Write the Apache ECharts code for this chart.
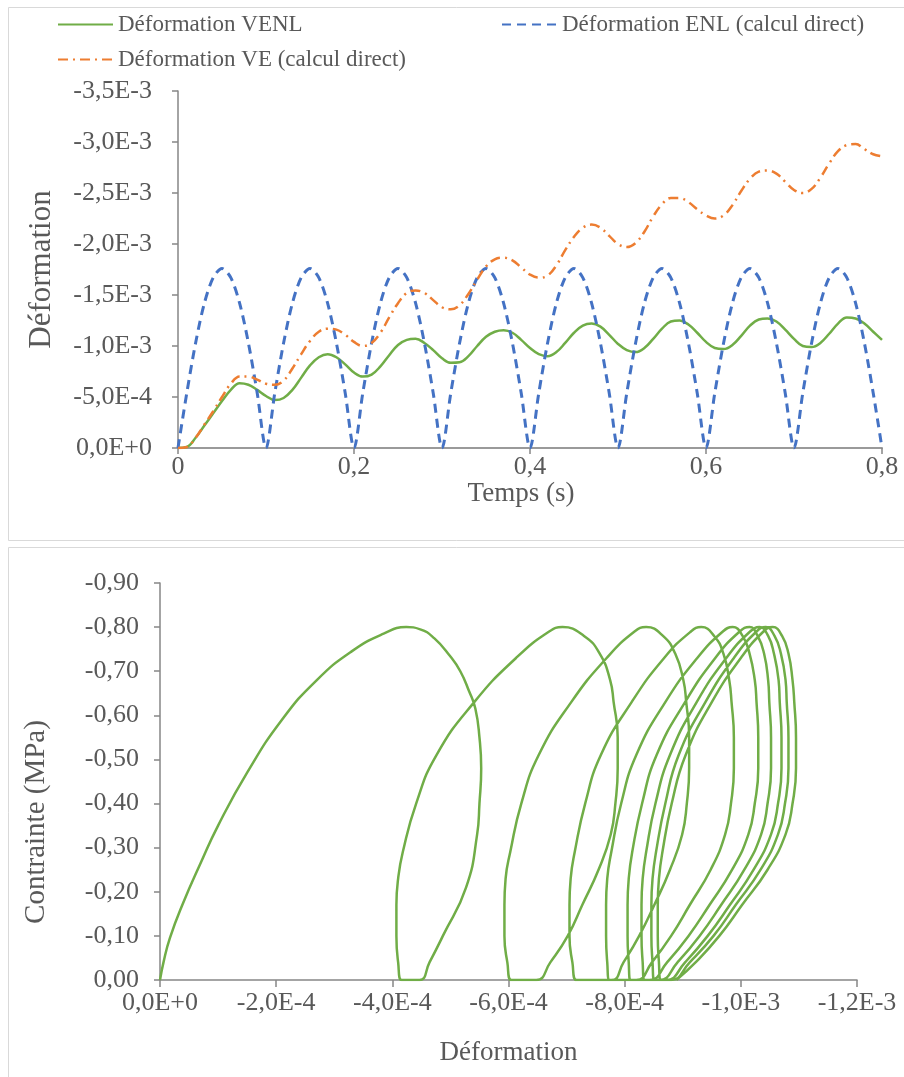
<!DOCTYPE html>
<html>
<head>
<meta charset="utf-8">
<script src="https://cdn.jsdelivr.net/npm/echarts/dist/echarts.min.js"></script>
<style>
html,body{margin:0;padding:0;background:#fff;}
#chart{width:904px;height:1077px;}
</style>
</head>
<body>
<div id="chart"></div>
<script>
// ---------- Top chart: strain vs time (strain in units of 1E-3) ----------
const timeS = [0,0.01,0.02,0.03,0.04,0.05,0.06,0.07,0.08,0.09,0.1,0.11,0.12,0.13,0.14,0.15,0.16,0.17,0.18,0.19,0.2,0.21,0.22,0.23,0.24,0.25,0.26,0.27,0.28,0.29,0.3,0.31,0.32,0.33,0.34,0.35,0.36,0.37,0.38,0.39,0.4,0.41,0.42,0.43,0.44,0.45,0.46,0.47,0.48,0.49,0.5,0.51,0.52,0.53,0.54,0.55,0.56,0.57,0.58,0.59,0.6,0.61,0.62,0.63,0.64,0.65,0.66,0.67,0.68,0.69,0.7,0.71,0.72,0.73,0.74,0.75,0.76,0.77,0.78,0.79,0.8];

const strainVENL = [0,-0.01,-0.10,-0.22,-0.34,-0.46,-0.57,-0.635,-0.62,-0.57,-0.51,
  -0.47,-0.49,-0.57,-0.69,-0.81,-0.89,-0.92,-0.89,-0.82,-0.74,
  -0.70,-0.72,-0.80,-0.91,-1.01,-1.06,-1.07,-1.03,-0.96,-0.88,
  -0.835,-0.84,-0.90,-1.00,-1.09,-1.14,-1.155,-1.13,-1.06,-0.98,
  -0.92,-0.90,-0.94,-1.03,-1.13,-1.20,-1.22,-1.19,-1.11,-1.02,
  -0.96,-0.94,-0.98,-1.07,-1.17,-1.24,-1.25,-1.21,-1.13,-1.04,
  -0.98,-0.97,-1.01,-1.10,-1.20,-1.26,-1.27,-1.24,-1.16,-1.07,
  -1.00,-0.99,-1.03,-1.12,-1.22,-1.28,-1.27,-1.22,-1.14,-1.06];

const strainENL = [0,-0.54,-1.03,-1.42,-1.67,-1.76,-1.67,-1.42,-1.03,-0.54,
  0,-0.54,-1.03,-1.42,-1.67,-1.76,-1.67,-1.42,-1.03,-0.54,
  0,-0.54,-1.03,-1.42,-1.67,-1.76,-1.67,-1.42,-1.03,-0.54,
  0,-0.54,-1.03,-1.42,-1.67,-1.76,-1.67,-1.42,-1.03,-0.54,
  0,-0.54,-1.03,-1.42,-1.67,-1.76,-1.67,-1.42,-1.03,-0.54,
  0,-0.54,-1.03,-1.42,-1.67,-1.76,-1.67,-1.42,-1.03,-0.54,
  0,-0.54,-1.03,-1.42,-1.67,-1.76,-1.67,-1.42,-1.03,-0.54,
  0,-0.54,-1.03,-1.42,-1.67,-1.76,-1.67,-1.42,-1.03,-0.54,
  0];

const strainVE = [0,-0.01,-0.10,-0.23,-0.36,-0.50,-0.63,-0.70,-0.70,-0.67,-0.63,
  -0.62,-0.66,-0.78,-0.92,-1.05,-1.14,-1.17,-1.16,-1.11,-1.04,
  -1.00,-1.03,-1.13,-1.28,-1.42,-1.52,-1.545,-1.52,-1.45,-1.38,
  -1.36,-1.40,-1.51,-1.65,-1.78,-1.85,-1.865,-1.84,-1.77,-1.70,
  -1.67,-1.69,-1.79,-1.94,-2.07,-2.16,-2.19,-2.16,-2.08,-2.00,
  -1.97,-2.01,-2.12,-2.27,-2.39,-2.45,-2.45,-2.41,-2.34,-2.28,
  -2.25,-2.28,-2.38,-2.52,-2.64,-2.71,-2.72,-2.69,-2.61,-2.53,
  -2.50,-2.54,-2.65,-2.79,-2.91,-2.97,-2.98,-2.93,-2.88,-2.86];

// ---------- Bottom chart: stress (MPa) vs strain (strain in units of 1E-4) ----------
const loop1Strain = [0,-0.06,-0.17,-0.40,-0.70,-1.00,-1.50,-2.10,-2.70,-3.30,-3.85,-4.24,-4.48,-4.72,-4.99,-5.17,-5.32,-5.43,-5.50,-5.53,-5.50,-5.46,-5.27,-4.87,-4.64,-4.47];
const loop1Stress = [0,-0.04,-0.095,-0.175,-0.265,-0.35,-0.47,-0.59,-0.68,-0.745,-0.785,-0.80,-0.795,-0.775,-0.735,-0.70,-0.655,-0.615,-0.55,-0.48,-0.40,-0.33,-0.21,-0.10,-0.04,0];

const cycleStress = [0,-0.04,-0.10,-0.17,-0.23,-0.29,-0.40,-0.51,-0.63,-0.73,-0.79,-0.80,-0.78,-0.74,-0.68,-0.63,-0.55,-0.48,-0.40,-0.33,-0.25,-0.17,-0.10,-0.04,0];
const loop2Strain = [-4.16,-4.10,-4.07,-4.07,-4.10,-4.18,-4.41,-4.76,-5.41,-6.13,-6.70,-6.93,-7.30,-7.57,-7.75,-7.81,-7.88,-7.88,-7.84,-7.76,-7.55,-7.27,-7.02,-6.72,-6.48];
const loop3Strain = [-6.05,-5.98,-5.93,-5.93,-5.95,-6.03,-6.22,-6.52,-7.08,-7.69,-8.17,-8.37,-8.66,-8.87,-9.01,-9.06,-9.11,-9.11,-9.07,-8.99,-8.78,-8.51,-8.25,-7.98,-7.77];
const loop4Strain = [-7.17,-7.10,-7.05,-7.05,-7.07,-7.14,-7.32,-7.59,-8.12,-8.68,-9.14,-9.32,-9.54,-9.70,-9.80,-9.84,-9.88,-9.88,-9.83,-9.73,-9.48,-9.12,-8.80,-8.47,-8.20];
const loop5Strain = [-7.74,-7.70,-7.68,-7.68,-7.70,-7.77,-7.94,-8.20,-8.70,-9.25,-9.69,-9.86,-10.03,-10.15,-10.24,-10.27,-10.30,-10.30,-10.24,-10.13,-9.85,-9.46,-9.10,-8.73,-8.43];
const loop6Strain = [-8.10,-8.07,-8.05,-8.05,-8.07,-8.13,-8.30,-8.55,-9.04,-9.56,-9.98,-10.15,-10.29,-10.40,-10.47,-10.49,-10.52,-10.52,-10.46,-10.35,-10.06,-9.66,-9.29,-8.91,-8.60];
const loop7Strain = [-8.34,-8.31,-8.29,-8.29,-8.31,-8.37,-8.53,-8.78,-9.24,-9.75,-10.16,-10.32,-10.47,-10.57,-10.65,-10.67,-10.70,-10.70,-10.64,-10.52,-10.22,-9.81,-9.43,-9.04,-8.72];
const loop8Strain = [-8.51,-8.48,-8.46,-8.46,-8.48,-8.54,-8.70,-8.93,-9.39,-9.88,-10.27,-10.43,-10.58,-10.69,-10.77,-10.79,-10.82,-10.82,-10.76,-10.64,-10.34,-9.91,-9.53,-9.12,-8.80];
const loop9Strain = [-8.62,-8.59,-8.57,-8.57,-8.59,-8.65,-8.81,-9.05,-9.50,-10.00,-10.39,-10.55,-10.71,-10.82,-10.89,-10.92,-10.95,-10.95,-10.89,-10.77,-10.46,-10.02,-9.63,-9.22,-8.89];

// ---------- build series data ----------
const pairs = (xs, ys) => xs.map((x, i) => [x, ys[i]]);
const venlData = pairs(timeS, strainVENL);
const enlData = pairs(timeS, strainENL);
const veData = pairs(timeS, strainVE);
const cycleLoops = [loop2Strain, loop3Strain, loop4Strain, loop5Strain, loop6Strain, loop7Strain, loop8Strain, loop9Strain];
let hysteresis = pairs(loop1Strain, loop1Stress);
cycleLoops.forEach(l => { hysteresis = hysteresis.concat(pairs(l, cycleStress)); });

function sci(real) {
  if (Math.abs(real) < 1e-15) return '0,0E+0';
  let e = Math.floor(Math.log10(Math.abs(real)) + 1e-9);
  let s = (real / Math.pow(10, e)).toFixed(1);
  if (Math.abs(parseFloat(s)) >= 10) { e += 1; s = (real / Math.pow(10, e)).toFixed(1); }
  return s.replace('.', ',') + 'E' + (e >= 0 ? '+' : '-') + Math.abs(e);
}

const FONT = '"Liberation Serif", "Times New Roman", serif';
const TXT = '#595959';
const AX = '#868686';
const GREEN = '#70ad47', BLUE = '#4472c4', ORANGE = '#ed7d31';

const legendBase = {itemWidth: 55, itemHeight: 14, itemGap: 0, selectedMode: false,
  itemStyle: {opacity: 0},
  textStyle: {fontFamily: FONT, fontSize: 23, color: TXT}};

const chart = echarts.init(document.getElementById('chart'), null, {renderer: 'canvas'});
chart.setOption({
  animation: false,
  backgroundColor: '#ffffff',
  textStyle: {fontFamily: FONT},
  graphic: [
    {type: 'rect', shape: {x: 8.5, y: 7.5, width: 1000, height: 533}, style: {fill: 'none', stroke: '#d9d9d9', lineWidth: 1}, silent: true, z: -1},
    {type: 'rect', shape: {x: 8.5, y: 547.5, width: 1000, height: 600}, style: {fill: 'none', stroke: '#d9d9d9', lineWidth: 1}, silent: true, z: -1},
    {type: 'text', x: 36, y: 822, rotation: Math.PI / 2, silent: true,
     style: {text: 'Contrainte (MPa)', font: '29px "Liberation Serif", serif', fill: TXT,
             textAlign: 'center', textVerticalAlign: 'middle'}}
  ],
  legend: [
    Object.assign({left: 52, top: 8, data: ['Déformation VENL']}, legendBase),
    Object.assign({left: 496, top: 8, data: ['Déformation ENL (calcul direct)']}, legendBase),
    Object.assign({left: 52, top: 43, data: ['Déformation VE (calcul direct)']}, legendBase)
  ],
  grid: [
    {left: 178, right: 22, top: 91, height: 357, containLabel: false},
    {left: 160, right: 47, top: 583, height: 397, containLabel: false}
  ],
  xAxis: [
    {gridIndex: 0, type: 'value', min: 0, max: 0.8, interval: 0.2,
     name: 'Temps (s)', nameLocation: 'middle', nameGap: 28,
     nameTextStyle: {fontFamily: FONT, fontSize: 27, color: TXT, padding: [0, 18, 0, 0]},
     axisLine: {lineStyle: {color: '#9a9a9a', width: 2}},
     axisTick: {show: true, length: 6, lineStyle: {color: AX, width: 1.5}},
     axisLabel: {margin: 6, fontFamily: FONT, fontSize: 26, color: TXT,
       formatter: v => (v === 0 ? '0' : v.toFixed(1).replace('.', ','))},
     splitLine: {show: false}},
    {gridIndex: 1, type: 'value', min: -12, max: 0, interval: 2, inverse: true,
     name: 'Déformation', nameLocation: 'middle', nameGap: 59,
     nameTextStyle: {fontFamily: FONT, fontSize: 27, color: TXT},
     axisLine: {lineStyle: {color: AX, width: 1.5}},
     axisTick: {show: true, length: 7, lineStyle: {color: AX, width: 1.5}},
     axisLabel: {margin: 10, fontFamily: FONT, fontSize: 26, color: TXT,
       formatter: v => sci(v * 1e-4)},
     splitLine: {show: false}}
  ],
  yAxis: [
    {gridIndex: 0, type: 'value', min: -3.5, max: 0, interval: 0.5, inverse: true,
     name: 'Déformation', nameLocation: 'middle', nameGap: 121,
     nameTextStyle: {fontFamily: FONT, fontSize: 31, color: TXT},
     axisLine: {show: true, lineStyle: {color: AX, width: 1.5}},
     axisTick: {show: true, length: 6, lineStyle: {color: AX, width: 1.5}},
     axisLabel: {margin: 26, fontFamily: FONT, fontSize: 26, color: TXT,
       formatter: v => sci(v * 1e-3)},
     splitLine: {show: false}},
    {gridIndex: 1, type: 'value', min: -0.9, max: 0, interval: 0.1, inverse: true,
     axisLine: {show: true, lineStyle: {color: AX, width: 1.5}},
     axisTick: {show: true, length: 6, lineStyle: {color: AX, width: 1.5}},
     axisLabel: {margin: 21, fontFamily: FONT, fontSize: 26, color: TXT,
       formatter: v => v.toFixed(2).replace('.', ',')},
     splitLine: {show: false}}
  ],
  series: [
    {name: 'Déformation VENL', type: 'line', xAxisIndex: 0, yAxisIndex: 0, data: venlData,
     smooth: 0.4, symbol: 'none', color: GREEN, lineStyle: {color: GREEN, width: 2.5}, z: 3},
    {name: 'Déformation ENL (calcul direct)', type: 'line', xAxisIndex: 0, yAxisIndex: 0, data: enlData,
     smooth: 0.3, symbol: 'none', color: BLUE, lineStyle: {color: BLUE, width: 3, type: [9, 6]}, z: 4},
    {name: 'Déformation VE (calcul direct)', type: 'line', xAxisIndex: 0, yAxisIndex: 0, data: veData,
     smooth: 0.4, symbol: 'none', color: ORANGE, lineStyle: {color: ORANGE, width: 2.5, type: [10, 5, 2, 5]}, z: 5},
    {name: 'Contrainte', type: 'line', xAxisIndex: 1, yAxisIndex: 1, data: hysteresis,
     smooth: 0.5, symbol: 'none', color: GREEN, lineStyle: {color: GREEN, width: 2.5}, z: 3}
  ]
});
</script>
</body>
</html>
